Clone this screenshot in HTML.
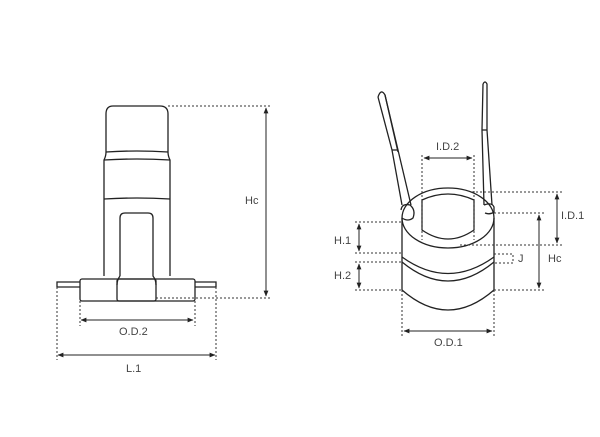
<!DOCTYPE html>
<html><head><style>
body{margin:0;background:#fff;}
svg{display:block;}
text{font-family:"Liberation Sans",sans-serif;font-size:11px;fill:#444;}
</style></head><body>
<svg width="600" height="437" viewBox="0 0 600 437" xmlns="http://www.w3.org/2000/svg">
<defs>
<marker id="a" viewBox="0 0 10 10" refX="9" refY="5" markerWidth="6" markerHeight="6" orient="auto-start-reverse"><path d="M0,1L10,5L0,9z" fill="#222"/></marker>
</defs>
<g fill="none" stroke="#222" stroke-width="1.3">
<path d="M104,276 L104,160 Q106,156 106,152 L106,114 Q106,106 113,106 L160,106 Q168,106 168,114 L168,152 Q168,156 170,160 L170,276"/>
<path d="M106,152 Q137,150 168,152"/>
<path d="M104,160 Q137,158 170,160"/>
<path d="M104,199 Q137,197 170,199"/>
<path d="M120,276 L120,218 Q120,213 125,213 L148,213 Q153,213 153,218 L153,276 Q156,280 156,285"/>
<path d="M120,276 Q117,280 117,285"/>
<rect x="80" y="279" width="115" height="22" rx="2"/>
<rect x="117" y="279" width="39" height="22" rx="2"/>
<path d="M80,282 L57,282 L57,287 L80,287"/>
<path d="M195,282 L216,282 L216,287 L195,287"/>
<path d="M378,97 Q381,88 385,95 L398,150 L411,205"/>
<path d="M378,97 L392,150 L402,205"/>
<path d="M385,95 L398,152"/>
<path d="M392,150 L398,150"/>
<path d="M483,84 Q485,80 487,84 L487,130 L492,205"/>
<path d="M483,84 L482,130 L484,205"/>
<path d="M482,130 L487,130"/>
<path d="M401,210 Q402,203 410,205 Q416,210 413,218 Q408,222 402,218"/>
<path d="M484,205 Q492,202 494,207 L494,212 Q490,215 485,213"/>
<ellipse cx="448" cy="218" rx="46" ry="30"/>
<path d="M422,200 Q448,188 474,200 L474,230 Q448,248 422,230 Z"/>
<path d="M402,218 L402,290 M494,218 L494,290"/>
<path d="M402,257 Q448,290 494,257"/>
<path d="M402,262 Q448,300 494,262"/>
<path d="M402,290 Q448,330 494,290"/>
</g>
<g fill="none" stroke="#333" stroke-width="1" stroke-dasharray="2,2">
<path d="M168,106 L270,106 M156,298 L270,298"/>
<path d="M80,301 L80,326 M195,301 L195,326 M57,287 L57,360 M216,287 L216,360"/>
<path d="M422,155 L422,240 M474,155 L474,240"/>
<path d="M472,192 L562,192 M460,245 L562,245 M494,213 L545,213 M494,290 L545,290"/>
<path d="M494,254 L513,254 L513,263 L494,263"/>
<path d="M355,222 L402,222 M355,253 L402,253 M355,262 L402,262 M355,290 L402,290"/>
<path d="M402,290 L402,336 M494,290 L494,336"/>
</g>
<g stroke="#222" stroke-width="1" fill="none">
<line x1="266" y1="108" x2="266" y2="296" marker-start="url(#a)" marker-end="url(#a)"/>
<line x1="81" y1="320" x2="193" y2="320" marker-start="url(#a)" marker-end="url(#a)"/>
<line x1="58" y1="355" x2="215" y2="355" marker-start="url(#a)" marker-end="url(#a)"/>
<line x1="424" y1="158" x2="472" y2="158" marker-start="url(#a)" marker-end="url(#a)"/>
<line x1="557" y1="194" x2="557" y2="243" marker-start="url(#a)" marker-end="url(#a)"/>
<line x1="539" y1="215" x2="539" y2="288" marker-start="url(#a)" marker-end="url(#a)"/>
<line x1="359" y1="224" x2="359" y2="251" marker-start="url(#a)" marker-end="url(#a)"/>
<line x1="359" y1="264" x2="359" y2="288" marker-start="url(#a)" marker-end="url(#a)"/>
<line x1="404" y1="331" x2="492" y2="331" marker-start="url(#a)" marker-end="url(#a)"/>
</g>
<text x="245" y="204">Hc</text>
<text x="119" y="335">O.D.2</text>
<text x="126" y="372">L.1</text>
<text x="436" y="150">I.D.2</text>
<text x="561" y="219">I.D.1</text>
<text x="548" y="262">Hc</text>
<text x="518" y="262">J</text>
<text x="334" y="244">H.1</text>
<text x="334" y="279">H.2</text>
<text x="434" y="346">O.D.1</text>
</svg>
</body></html>
